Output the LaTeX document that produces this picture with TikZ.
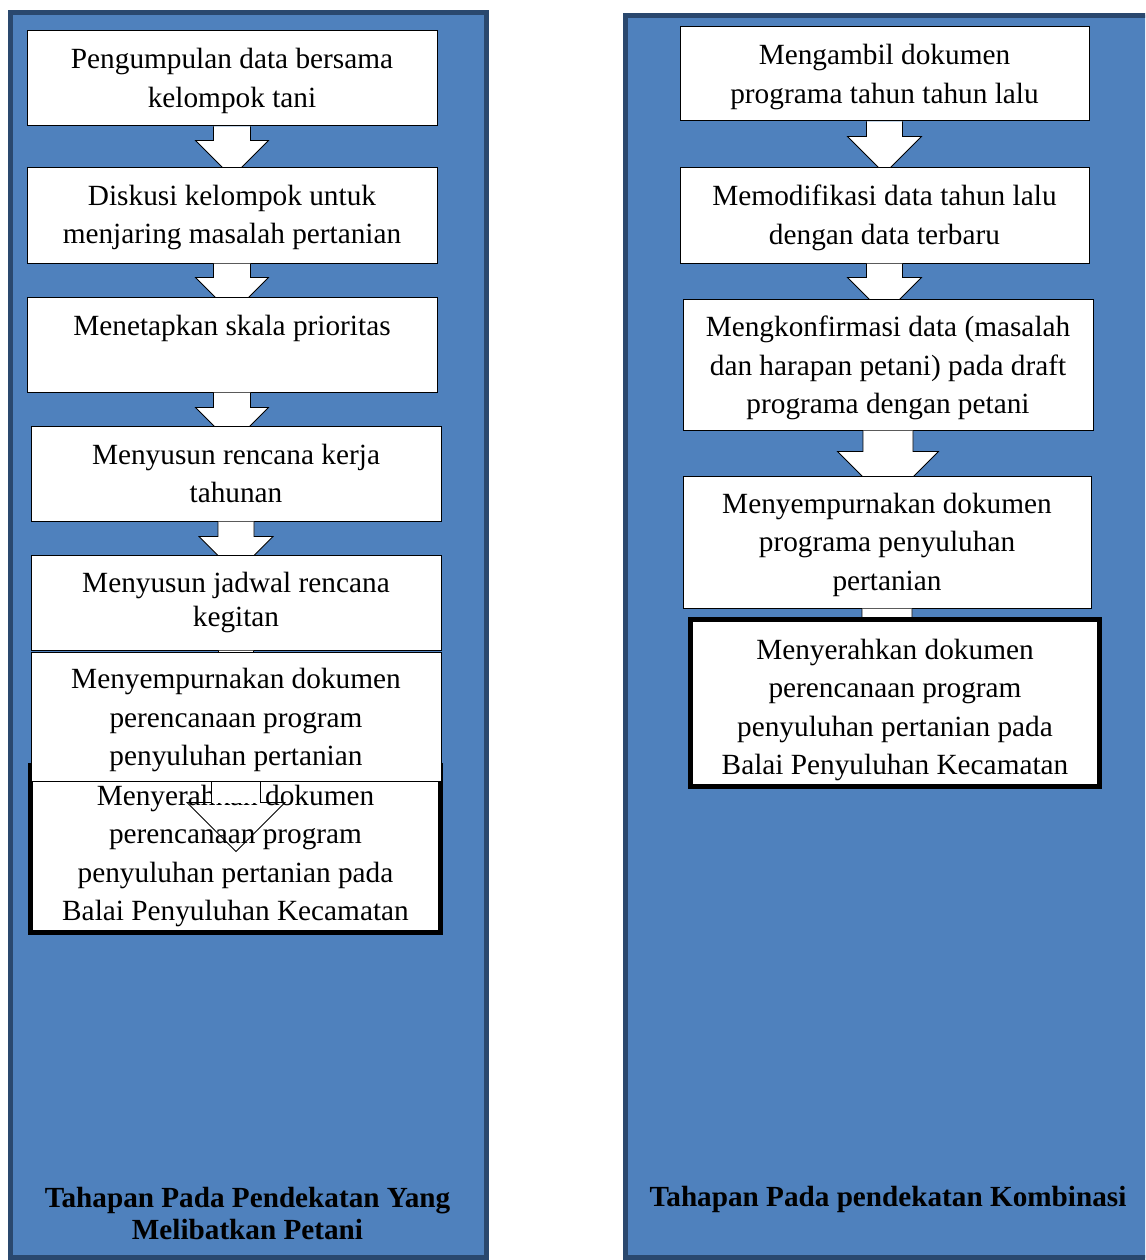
\documentclass[tikz,border=0pt]{standalone}
\usepackage{fontspec}
\setmainfont{Liberation Serif}
\usetikzlibrary{calc}
\definecolor{panelblue}{RGB}{79,129,189}
\definecolor{paneldark}{RGB}{42,72,110}
% block arrow hanging below a node: [style]{node}{shaft half width}{shaft length}{head half width}
\newcommand{\blockarrow}[5][blockarr]{%
  \draw[#1] ($(#2.south)+(-#3,0)$) -- ++(0,#4) -- ++({#3-#5},0)
    -- ++(#5,#5) -- ++(#5,-#5) -- ++({#3-#5},0) -- ++(0,-#4);}
% taller first line, pushes the text of a box a little down
\newcommand{\lowr}[1]{\rule{0pt}{#1pt}}

\begin{document}
\begin{tikzpicture}[x=1pt,y=-1pt,
  panel/.style={fill=panelblue,draw=paneldark,line width=5pt},
  stepbox/.style={draw,fill=white,line width=1pt,inner sep=0pt,align=center,
    minimum width=410,font=\fontsize{29.3}{38.5}\selectfont},
  lastbox/.style={stepbox,line width=5pt},
  blockarr/.style={draw,fill=white,line width=0.8pt},
  paneltitle/.style={align=center,font=\bfseries\fontsize{29.2}{32}\selectfont}]
\clip (0,0) rectangle (1145,1260);
\draw[panel] (10.5,12.5) rectangle (486.5,1257.5);
\draw[panel] (625.5,15.5) rectangle (1152,1257.5);

% left column
\node[stepbox,minimum height=95] (l1) at (232,78.5) {\lowr{25}Pengumpulan data bersama\\kelompok tani};
\blockarrow{l1}{18.5}{14}{36.5}
\node[stepbox,minimum height=95] (l2) at (232,215.5) {\lowr{24}Diskusi kelompok untuk\\menjaring masalah pertanian};
\blockarrow{l2}{18.5}{14}{36.5}
\node[stepbox,minimum height=95] (l3) at (232,344.5) {Menetapkan skala prioritas\\\mbox{}};
\blockarrow{l3}{18.5}{15}{36.5}
\node[stepbox,minimum height=95] (l4) at (236,473.5) {Menyusun rencana kerja\\tahunan};
\blockarrow{l4}{18}{15}{37}
\node[stepbox,minimum height=95,font=\fontsize{29.3}{34}\selectfont] (l5) at (236,602.5) {Menyusun jadwal rencana\\kegitan};
\blockarrow{l5}{17.5}{15}{37}
\node[lastbox,minimum height=167] (l7) at (235.5,849) {\lowr{34}Menyerahkan dokumen\\perencanaan program\\penyuluhan pertanian pada\\Balai Penyuluhan Kecamatan};
\node[stepbox,minimum height=129] (l6) at (236,716.5) {\lowr{28}Menyempurnakan dokumen\\perencanaan program\\penyuluhan pertanian};
\fill[white] ($(l6.south)+(-24.5,0)$) rectangle ++(49,21);
\blockarrow[draw,line width=0.8pt]{l6}{24.5}{21}{49}

% right column
\node[stepbox,minimum width=409,minimum height=94] (r1) at (884.5,74) {\lowr{26}Mengambil dokumen\\programa tahun tahun lalu};
\blockarrow{r1}{18}{15}{37}
\node[stepbox,minimum width=409,minimum height=95] (r2) at (884.5,215.5) {\lowr{25}Memodifikasi data tahun lalu\\dengan data terbaru};
\blockarrow{r2}{18}{14}{37}
\node[stepbox,minimum height=131] (r3) at (888,364.5) {\lowr{28}Mengkonfirmasi data (masalah\\dan harapan petani) pada draft\\programa dengan petani};
\blockarrow{r3}{25}{21}{50.5}
\node[stepbox,minimum width=408,minimum height=132] (r4) at (887,542) {\lowr{26}Menyempurnakan dokumen\\programa penyuluhan\\pertanian};
\blockarrow{r4}{25}{21}{50.5}
\node[lastbox,minimum width=409,minimum height=167] (r5) at (895,703) {\lowr{34}Menyerahkan dokumen\\perencanaan program\\penyuluhan pertanian pada\\Balai Penyuluhan Kecamatan};

% panel titles
\node[paneltitle] (tleft) at (247.5,1213) {Tahapan Pada Pendekatan Yang\\Melibatkan Petani};
\node[paneltitle] (tright) at (888,1199) {Tahapan Pada pendekatan Kombinasi};
\end{tikzpicture}
\end{document}
